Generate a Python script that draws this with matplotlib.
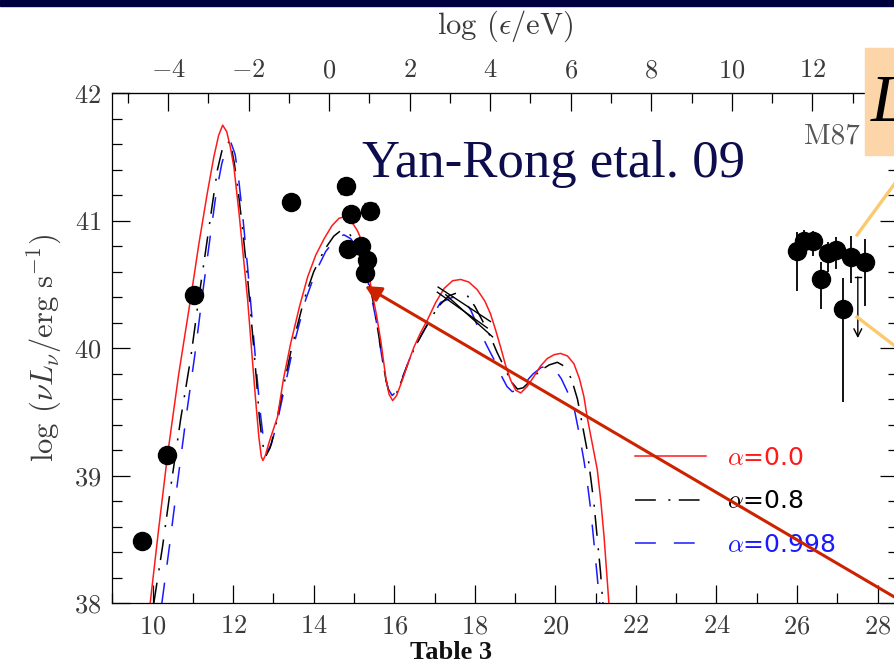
import numpy as np
import matplotlib
matplotlib.use("Agg")
import matplotlib.pyplot as plt
from matplotlib.lines import Line2D
from matplotlib.patches import Rectangle, FancyArrowPatch
from matplotlib.ticker import MultipleLocator

plt.rcParams['font.family'] = 'serif'
plt.rcParams['font.serif'] = ['cmr10']
plt.rcParams['mathtext.fontset'] = 'cm'
plt.rcParams['axes.formatter.use_mathtext'] = True
plt.rcParams['lines.scale_dashes'] = False

# model SEDs: log nu [Hz] vs log nuLnu [erg/s]
red_x = [9.94, 10.15, 10.37, 10.65, 10.95, 11.15, 11.36, 11.52, 11.64, 11.74, 11.84, 11.93,
         12.02, 12.15, 12.26, 12.36, 12.46, 12.56, 12.64, 12.70, 12.74, 12.80, 12.90, 13.10,
         13.25, 13.43, 13.65, 13.85, 14.05, 14.26, 14.45, 14.63, 14.75, 14.88, 14.99, 15.09,
         15.17, 15.25, 15.33, 15.40, 15.46, 15.56, 15.67, 15.79, 15.87, 15.96, 16.06, 16.20,
         16.35, 16.49, 16.65, 16.82, 17.03, 17.24, 17.45, 17.65, 17.85, 18.06, 18.25, 18.39,
         18.52, 18.64, 18.77, 18.89, 19.02, 19.14, 19.30, 19.47, 19.63, 19.80, 19.97, 20.13,
         20.30, 20.46, 20.60, 20.71, 20.79, 20.90, 21.04, 21.13, 21.21, 21.27, 21.33]
red_y = [38.00, 38.58, 39.16, 39.80, 40.40, 40.82, 41.22, 41.50, 41.67, 41.75, 41.70, 41.58,
         41.42, 41.05, 40.70, 40.38, 39.98, 39.59, 39.30, 39.15, 39.12, 39.16, 39.27, 39.46,
         39.76, 40.04, 40.33, 40.56, 40.73, 40.86, 40.96, 41.02, 41.03, 41.01, 40.97, 40.92,
         40.86, 40.77, 40.64, 40.52, 40.42, 40.26, 40.05, 39.77, 39.64, 39.59, 39.63, 39.75,
         39.89, 40.01, 40.12, 40.22, 40.36, 40.47, 40.53, 40.54, 40.52, 40.46, 40.37, 40.27,
         40.14, 40.01, 39.86, 39.75, 39.67, 39.65, 39.70, 39.78, 39.86, 39.92, 39.95, 39.96,
         39.94, 39.88, 39.76, 39.62, 39.46, 39.28, 39.05, 38.80, 38.52, 38.26, 38.00]

blk_x = [10.03, 10.25, 10.45, 10.70, 10.95, 11.15, 11.32, 11.48, 11.61, 11.73, 11.84, 11.94,
         12.03, 12.13, 12.23, 12.36, 12.48, 12.58, 12.65, 12.73, 12.82, 12.92, 13.05, 13.18,
         13.45, 13.76, 14.00, 14.26, 14.50, 14.70, 14.85, 14.98, 15.10, 15.20, 15.30, 15.40,
         15.50, 15.60, 15.70, 15.80, 15.88, 15.96, 16.06, 16.20, 16.35, 16.50, 16.70, 16.90,
         17.10, 17.35, 17.60, 17.80, 18.00, 18.20, 18.39, 18.55, 18.72, 18.90, 19.06, 19.20,
         19.40, 19.60, 19.85, 20.05, 20.22, 20.40, 20.55, 20.67, 20.79, 20.88, 20.96, 21.05,
         21.12, 21.18]
blk_y = [38.00, 38.45, 38.91, 39.45, 39.93, 40.40, 40.77, 41.12, 41.40, 41.56, 41.63, 41.60,
         41.45, 41.22, 40.95, 40.55, 40.12, 39.75, 39.46, 39.25, 39.16, 39.22, 39.38, 39.59,
         40.00, 40.38, 40.60, 40.77, 40.88, 40.93, 40.92, 40.85, 40.78, 40.70, 40.60, 40.48,
         40.33, 40.13, 39.93, 39.74, 39.65, 39.62, 39.65, 39.76, 39.89, 40.00, 40.12, 40.23,
         40.33, 40.41, 40.44, 40.42, 40.33, 40.21, 40.09, 39.97, 39.86, 39.74, 39.68, 39.69,
         39.75, 39.82, 39.87, 39.89, 39.86, 39.76, 39.60, 39.40, 39.20, 38.98, 38.78, 38.48,
         38.25, 38.00]

blu_x = [10.23, 10.42, 10.62, 10.85, 11.05, 11.25, 11.42, 11.58, 11.72, 11.84, 11.95, 12.05,
         12.14, 12.25, 12.37, 12.50, 12.60, 12.68, 12.76, 12.85, 12.95, 13.08, 13.25, 13.50,
         13.80, 14.05, 14.30, 14.55, 14.75, 14.92, 15.05, 15.15, 15.25, 15.35, 15.45, 15.55,
         15.65, 15.75, 15.85, 15.95, 16.05, 16.20, 16.40, 16.60, 16.85, 17.15, 17.45, 17.70,
         17.90, 18.10, 18.30, 18.48, 18.65, 18.80, 18.93, 19.05, 19.25, 19.45, 19.65, 19.85,
         20.00, 20.15, 20.30, 20.46, 20.58, 20.71, 20.80, 20.88, 20.96, 21.04, 21.10]
blu_y = [38.00, 38.45, 38.95, 39.50, 39.95, 40.45, 40.85, 41.22, 41.45, 41.58, 41.61, 41.52,
         41.32, 41.00, 40.60, 40.12, 39.75, 39.48, 39.27, 39.19, 39.25, 39.40, 39.65, 40.02,
         40.38, 40.60, 40.76, 40.86, 40.89, 40.86, 40.80, 40.72, 40.63, 40.52, 40.38, 40.22,
         40.02, 39.82, 39.68, 39.63, 39.66, 39.77, 39.93, 40.06, 40.20, 40.36, 40.40, 40.39,
         40.30, 40.15, 40.02, 39.91, 39.79, 39.70, 39.66, 39.67, 39.73, 39.80, 39.85, 39.86,
         39.83, 39.76, 39.66, 39.54, 39.35, 39.12, 38.93, 38.73, 38.47, 38.21, 38.00]

# radio to UV photometry
obs_x = [9.73, 10.35, 11.02, 13.43, 14.84, 15.17, 15.33, 15.28]
obs_y = [38.49, 39.16, 40.42, 41.15, 40.78, 40.80, 40.69, 40.59]
# points with small error bars
obse_x = [14.80, 14.92, 15.40]
obse_y = [41.27, 41.05, 41.08]
obse_err = [0.06, 0.05, 0.06]

# X-ray bowtie segments
bow_x = [[17.09, 18.39], [17.07, 18.31], [17.28, 18.44]]
bow_y = [[40.48, 40.21], [40.44, 40.16], [40.42, 40.09]]

# gamma-ray points
gam_x = [26.00, 26.18, 26.40, 26.59, 26.77, 26.96, 27.14, 27.33, 27.70]
gam_y = [40.76, 40.84, 40.84, 40.54, 40.75, 40.77, 40.31, 40.72, 40.68]
gam_lo = [0.31, 0.07, 0.12, 0.23, 0.15, 0.15, 0.73, 0.21, 0.35]
gam_hi = [0.15, 0.09, 0.08, 0.14, 0.08, 0.10, 0.24, 0.16, 0.18]
ul_x, ul_y, ul_tip = 27.51, 40.56, 40.08

labels = [r'$\alpha$=0.0', r'$\alpha$=0.8', r'$\alpha$=0.998']
top_ticks = [-4, -2, 0, 2, 4, 6, 8, 10, 12]
red, blue = '#ff1a1a', '#1a1aff'
dashdot = (15, 9, 1.5, 6)
longdash = (15, 13)

W, H = 895, 664
fig = plt.figure(figsize=(W / 100, H / 100), dpi=100)
fig.patch.set_facecolor('white')


def fpx(x, y):
    return x / W, 1 - y / H


ax = fig.add_axes([112.3 / W, (H - 603.3) / H, (897.7 - 112.3) / W, (603.3 - 93.3) / H])
ax.set_xlim(9, 28.5)
ax.set_ylim(38, 42)

ax.plot(blu_x, blu_y, color=blue, lw=1.1, dashes=longdash)
ax.plot(blk_x, blk_y, color='black', lw=1.1, dashes=dashdot)
ax.plot(red_x, red_y, color=red, lw=1.1)

ax.plot(obs_x, obs_y, 'o', ms=13, color='black', zorder=5)
ax.errorbar(obse_x, obse_y, yerr=obse_err, fmt='o', ms=13, color='black',
            elinewidth=1.2, capsize=4, zorder=5)
for bx, by in zip(bow_x, bow_y):
    ax.plot(bx, by, color='black', lw=1.0)
ax.errorbar(gam_x, gam_y, yerr=[gam_lo, gam_hi], fmt='o', ms=13, color='black',
            elinewidth=1.3, capsize=0, zorder=5)
ax.plot([ul_x - 0.07, ul_x + 0.07], [ul_y, ul_y], color='black', lw=1.0)
ax.annotate('', xy=(ul_x, ul_tip), xytext=(ul_x, ul_y),
            arrowprops=dict(arrowstyle='->', color='black', lw=1.0,
                            shrinkA=0, shrinkB=0, mutation_scale=14))

tick_col = '#3a3a3a'
ax.xaxis.set_major_locator(MultipleLocator(2))
ax.xaxis.set_minor_locator(MultipleLocator(1))
ax.yaxis.set_major_locator(MultipleLocator(1))
ax.yaxis.set_minor_locator(MultipleLocator(0.2))
ax.tick_params(which='both', direction='in', top=False, right=True, width=0.9,
               labelsize=19, labelcolor=tick_col, pad=8)
ax.tick_params(which='major', length=13)
ax.tick_params(which='minor', length=7)
for s in ax.spines.values():
    s.set_linewidth(0.9)
ax.set_ylabel(r'log $(\nu L_\nu/{\rm erg\ s^{-1}})$', fontsize=22, color=tick_col, labelpad=7)

# photon energy scale on top
secax = ax.secondary_xaxis('top', functions=(lambda x: x - 14.383, lambda e: e + 14.383))
secax.set_xticks(top_ticks)
secax.xaxis.set_minor_locator(MultipleLocator(1))
secax.tick_params(which='both', direction='in', width=0.9, labelsize=19,
                  labelcolor=tick_col, pad=8)
secax.tick_params(which='major', length=13)
secax.tick_params(which='minor', length=7)
secax.set_xlabel(r'log $(\epsilon/{\rm eV})$', fontsize=22, color=tick_col, labelpad=18)

ax.text(26.17, 41.61, 'M87', fontsize=21, color='#555555')

handles = [Line2D([], [], color=red, lw=1.1),
           Line2D([], [], color='black', lw=1.1, dashes=dashdot),
           Line2D([], [], color=blue, lw=1.1, dashes=longdash)]
ax.legend(handles, labels, loc='upper left', bbox_to_anchor=fpx(635, 446),
          bbox_transform=fig.transFigure, frameon=False, borderpad=0, borderaxespad=0,
          handlelength=2.85, handletextpad=0.85, labelspacing=0.78,
          prop={'family': 'DejaVu Sans', 'size': 18}, labelcolor='linecolor')

# slide decorations
fig.add_artist(Rectangle((0, 1 - 6 / H), 1, 6 / H, transform=fig.transFigure,
                         color='#00003f', zorder=10))
fig.add_artist(Rectangle(fpx(865, 155), 40 / W, 107 / H, transform=fig.transFigure,
                         color='#fcd5a8', zorder=10))
fig.text(*fpx(871, 121), 'L', fontsize=48, family='Liberation Serif', style='italic',
         color='black', zorder=11)
fig.text(*fpx(362, 177), 'Yan-Rong etal. 09', fontsize=38, family='Liberation Serif',
         color='#0d0d4d', zorder=11)
fig.text(*fpx(451, 659), 'Table 3', fontsize=19, family='Liberation Serif',
         weight='bold', ha='center', color='#111111', zorder=11)
for (x1, y1), (x2, y2) in [((857, 235), (912, 160)), ((857, 317), (912, 359))]:
    fig.add_artist(Line2D([x1 / W, x2 / W], [1 - y1 / H, 1 - y2 / H],
                          transform=fig.transFigure, color='#fbc96f', lw=2.4, zorder=10))
fig.add_artist(FancyArrowPatch(fpx(925, 615), fpx(365, 286), transform=fig.transFigure,
                               arrowstyle='-|>', mutation_scale=24, color='#cc2200',
                               lw=2.2, shrinkA=0, shrinkB=0, zorder=12))

fig.savefig('out.png', dpi=100)
